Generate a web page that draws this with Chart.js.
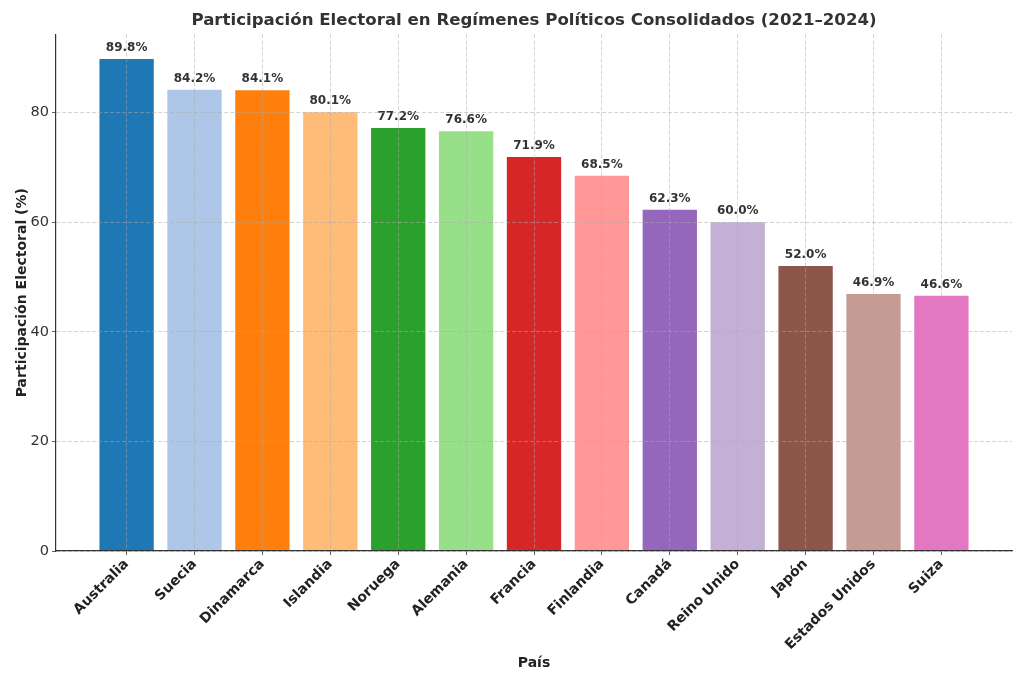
<!DOCTYPE html>
<html>
<head>
<meta charset="utf-8">
<script src="https://cdn.jsdelivr.net/npm/chart.js@4"></script>
<style>
  html, body { margin: 0; padding: 0; background: #fff; }
  #wrap { width: 1024px; height: 686px; }
</style>
</head>
<body>
<div id="wrap"><canvas id="participacion"></canvas></div>
<script>
const paises = [
    "Australia", "Suecia", "Dinamarca", "Islandia", "Noruega", "Alemania", "Francia",
    "Finlandia", "Canadá", "Reino Unido", "Japón", "Estados Unidos", "Suiza"
];
const participacion = [89.8, 84.2, 84.1, 80.1, 77.2, 76.6, 71.9, 68.5, 62.3, 60.0, 52.0, 46.9, 46.6];
const colores = [
    '#1f77b4', '#aec7e8', '#ff7f0e', '#ffbb78', '#2ca02c', '#98df8a', '#d62728',
    '#ff9896', '#9467bd', '#c5b0d5', '#8c564b', '#c49c94', '#e377c2'
];
const yTicks = [0, 20, 40, 60, 80];
const titulo = 'Participación Electoral en Regímenes Políticos Consolidados (2021–2024)';

Chart.defaults.font.family = "'DejaVu Sans', sans-serif";
Chart.defaults.color = '#333';

// etiquetas de porcentaje encima de cada barra + título centrado sobre el área del gráfico
const etiquetas = {
    id: 'etiquetas',
    afterDatasetsDraw(chart) {
        const ctx = chart.ctx;
        const meta = chart.getDatasetMeta(0);
        ctx.save();
        ctx.font = "bold 12px 'DejaVu Sans'";
        ctx.fillStyle = '#333';
        ctx.textAlign = 'center';
        ctx.textBaseline = 'bottom';
        meta.data.forEach((bar, i) => {
            ctx.fillText(participacion[i].toFixed(1) + '%', bar.x, bar.y - 5);
        });
        const area = chart.chartArea;
        ctx.font = "bold 16.6px 'DejaVu Sans'";
        ctx.textBaseline = 'middle';
        ctx.fillText(titulo, (area.left + area.right) / 2, 21);
        ctx.restore();
    }
};

const gridColor = 'rgba(170,170,170,0.65)';

const ctx = document.getElementById('participacion').getContext('2d');
const grafico = new Chart(ctx, {
    type: 'bar',
    data: {
        datasets: [{
            label: 'Participación',
            data: participacion.map((v, i) => ({ x: i, y: v })),
            backgroundColor: colores,
            borderWidth: 0,
            barPercentage: 0.8,
            categoryPercentage: 1.0
        }]
    },
    options: {
        responsive: true,
        maintainAspectRatio: false,
        animation: false,
        layout: { padding: { left: 14, right: 12, top: 0, bottom: 14 } },
        plugins: {
            legend: { display: false },
            tooltip: { enabled: false },
            title: {
                // sólo reserva el espacio; el texto lo dibuja el plugin
                display: true,
                text: titulo,
                color: 'rgba(0,0,0,0)',
                font: { size: 17, weight: 'bold' },
                padding: { top: 11, bottom: 3 }
            }
        },
        scales: {
            x: {
                type: 'linear',
                min: -1.04,
                max: 13.04,
                offset: false,
                afterBuildTicks: (scale) => {
                    scale.ticks = paises.map((p, i) => ({ value: i }));
                },
                afterFit: (scale) => { scale.height = 121; },
                ticks: {
                    autoSkip: false,
                    minRotation: 45,
                    maxRotation: 45,
                    padding: 1,
                    color: '#222',
                    font: { size: 14, weight: 'bold' },
                    callback: (v) => paises[v]
                },
                grid: {
                    z: 1,
                    offset: false,
                    color: gridColor,
                    tickColor: '#333',
                    tickLength: 4,
                    tickBorderDash: [],
                    lineWidth: 0.8
                },
                border: { display: true, color: '#333', width: 1.2, dash: [4, 2], z: 2 },
                title: {
                    display: true,
                    text: 'País',
                    color: '#222',
                    font: { size: 14, weight: 'bold' },
                    padding: 0
                }
            },
            y: {
                min: 0,
                max: 94.29,
                afterBuildTicks: (scale) => {
                    scale.ticks = yTicks.map(v => ({ value: v }));
                },
                afterFit: (scale) => { scale.width = 42; },
                ticks: {
                    padding: 3,
                    color: '#333',
                    font: { size: 14.5 }
                },
                grid: {
                    z: 1,
                    color: gridColor,
                    tickColor: '#333',
                    tickLength: 4,
                    tickBorderDash: [],
                    lineWidth: 0.8
                },
                border: { display: true, color: '#333', width: 1.2, dash: [4, 2], z: 2 },
                title: {
                    display: true,
                    text: 'Participación Electoral (%)',
                    color: '#222',
                    font: { size: 14, weight: 'bold' },
                    padding: 0
                }
            }
        }
    },
    plugins: [etiquetas]
});
</script>
</body>
</html>
